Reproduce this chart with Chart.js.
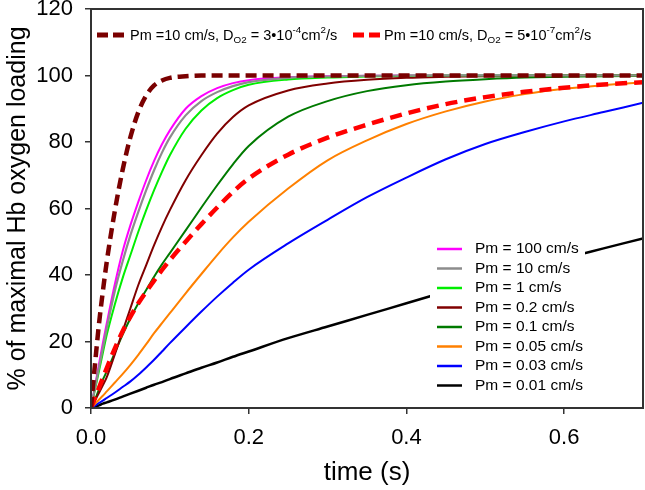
<!DOCTYPE html>
<html>
<head>
<meta charset="utf-8">
<script src="https://cdn.jsdelivr.net/npm/chart.js@4/dist/chart.umd.min.js"></script>
<style>
html,body{margin:0;padding:0;background:#fff;}
#wrap{width:645px;height:490px;position:relative;}
</style>
</head>
<body>
<div id="wrap"><canvas id="c" width="645" height="490"></canvas></div>
<script>
// ---- data ----
const times = [0, .005, .01, .015, .02, .03, .04, .05, .06, .07, .08, .09, .1, .12, .14, .16, .18, .2, .25, .3, .35, .4, .45, .5, .55, .6, .65, .7];

const dO2High = [0, 13, 25, 35, 44, 59, 71.5, 81.5, 89, 94, 97, 98.5, 99.3, 99.8, 100, 100, 100, 100, 100, 100, 100, 100, 100, 100, 100, 100, 100, 100];
const dO2Low  = [0, 3, 6, 9, 12, 17.8, 23, 27.5, 31.5, 35, 38.3, 41.5, 44.5, 50, 55.3, 60.3, 65, 69, 76.2, 81.3, 85.2, 88.6, 91.4, 93.5, 95.1, 96.3, 97.3, 98];
const pm100  = [0, 6.5, 13, 19.5, 25.5, 37, 47, 55, 62, 68.5, 74.3, 79.3, 83.5, 90, 93.8, 96.2, 97.7, 98.6, 99.5, 99.8, 99.9, 100, 100, 100, 100, 100, 100, 100];
const pm10   = [0, 6, 12, 18, 24, 35, 44, 52, 59, 65.5, 71.5, 76.8, 81.3, 88, 92.3, 95, 96.8, 98, 99.3, 99.7, 99.9, 100, 100, 100, 100, 100, 100, 100];
const pm1    = [0, 5.5, 11, 16.5, 22, 31, 39, 46, 53, 59.5, 65.5, 71, 76, 84, 89.5, 93.2, 95.6, 97.2, 98.8, 99.4, 99.7, 99.9, 100, 100, 100, 100, 100, 100];
const pm02   = [0, 2.2, 4.5, 6.8, 9.3, 16, 23, 30, 37, 43, 49, 54.5, 59.5, 68.5, 76, 82.5, 87.5, 91, 95.5, 97.6, 98.7, 99.3, 99.6, 99.8, 99.9, 100, 100, 100];
const pm01   = [0, 2.5, 5.5, 8.5, 11, 16.5, 22, 27, 31.5, 35.5, 39.5, 43.2, 46.6, 53.4, 60.3, 67, 73.3, 78.8, 87.6, 92.3, 95.3, 97.1, 98.2, 98.9, 99.4, 99.6, 99.8, 99.9];
const pm005  = [0, 1.2, 2.5, 3.7, 5, 7.6, 10.2, 13, 16, 19.2, 22.5, 25.5, 28.5, 34.5, 40.3, 46, 51.3, 56, 66, 74.5, 80.5, 85.4, 89.2, 92.2, 94.4, 96, 97.1, 97.9];
const pm003  = [0, 0.7, 1.5, 2.2, 3, 4.6, 6.3, 8, 10, 12.2, 14.5, 17, 19.5, 24.3, 29, 33.5, 37.7, 41.6, 49.5, 56.6, 63.4, 69.3, 74.8, 79.4, 83, 86.2, 89, 91.8];
const pm001  = [0, 0.4, 0.8, 1.3, 1.7, 2.5, 3.4, 4.3, 5.2, 6.1, 7, 7.8, 8.7, 10.4, 12.1, 13.7, 15.4, 17, 21, 24.5, 28, 31.5, 35, 38.5, 41.8, 45, 48, 51];

const xTicks = [0, 0.2, 0.4, 0.6];
const yTicks = [0, 20, 40, 60, 80, 100, 120];

const solidLabels = ["Pm = 100 cm/s", "Pm = 10 cm/s", "Pm = 1 cm/s", "Pm = 0.2 cm/s", "Pm = 0.1 cm/s", "Pm = 0.05 cm/s", "Pm = 0.03 cm/s", "Pm = 0.01 cm/s"];
const dashLabel1 = [["Pm =10 cm/s, D",""],["O2","sub"],[" = 3\u202210",""],["-4","sup"],["cm",""],["2","sup"],["/s",""]];
const dashLabel2 = [["Pm =10 cm/s, D",""],["O2","sub"],[" = 5\u202210",""],["-7","sup"],["cm",""],["2","sup"],["/s",""]];

const xTitle = "time (s)";
const yTitle = "% of maximal Hb oxygen loading";

// ---- build datasets ----
const pts = arr => times.map((t, i) => ({x: t, y: arr[i]}));
const FONT = "'Liberation Sans', Arial, sans-serif";

const solidSeries = [
  {data: pm100, color: '#ff00ff', w: 2, order: 1},
  {data: pm10,  color: '#8c8c8c', w: 2.2, order: 0},
  {data: pm1,   color: '#00ee00', w: 2, order: 0},
  {data: pm02,  color: '#800000', w: 2, order: 0},
  {data: pm01,  color: '#007a00', w: 2, order: 0},
  {data: pm005, color: '#ff8000', w: 2, order: 0},
  {data: pm003, color: '#0000ff', w: 2, order: 0},
  {data: pm001, color: '#000000', w: 2.5, order: 0}
];
const dashSeries = [
  {data: dO2High, color: '#7a0000', w: 4.5, dash: [11, 6]},
  {data: dO2Low,  color: '#ff0000', w: 4.5, dash: [12, 7]}
];

const datasets = [];
dashSeries.forEach((s, i) => datasets.push({
  label: 'dash' + i, data: pts(s.data), borderColor: s.color, borderWidth: s.w, order: -1,
  borderDash: s.dash, pointRadius: 0, fill: false, cubicInterpolationMode: 'monotone', borderCapStyle: 'butt'
}));
solidSeries.forEach((s, i) => datasets.push({
  label: solidLabels[i], data: pts(s.data), borderColor: s.color, borderWidth: s.w, order: s.order,
  pointRadius: 0, fill: false, cubicInterpolationMode: 'monotone'
}));

function drawRich(ctx, parts, x, y, size) {
  let cx = x;
  parts.forEach(([t, kind]) => {
    let fs = size, dy = 0;
    if (kind === 'sub') { fs = size * 0.68; dy = size * 0.28; }
    if (kind === 'sup') { fs = size * 0.68; dy = -size * 0.36; }
    ctx.font = fs + 'px ' + FONT;
    ctx.fillText(t, cx, y + dy);
    cx += ctx.measureText(t).width;
  });
}

const customLegend = {
  id: 'customLegend',
  afterDatasetsDraw(chart) {
    const ctx = chart.ctx;
    const ca = chart.chartArea;
    ctx.save();
    // frame
    ctx.strokeStyle = '#333';
    ctx.lineWidth = 2;
    ctx.strokeRect(ca.left, ca.top, ca.right - ca.left, ca.bottom - ca.top);
    // bottom-right legend (opaque box)
    ctx.fillStyle = '#fff';
    ctx.fillRect(430, 239, 155, ca.bottom - 240);
    ctx.textBaseline = 'middle';
    ctx.textAlign = 'left';
    solidSeries.forEach((s, i) => {
      const y = 249 + i * 19.5;
      ctx.strokeStyle = s.color;
      ctx.lineWidth = 2.5;
      ctx.setLineDash([]);
      ctx.beginPath(); ctx.moveTo(437, y); ctx.lineTo(462, y); ctx.stroke();
      ctx.fillStyle = '#000';
      ctx.font = '15.5px ' + FONT;
      ctx.fillText(solidLabels[i], 475, y);
    });
    // top legend (dashed entries)
    const tops = [{x1: 97, x2: 128, tx: 130, parts: dashLabel1}, {x1: 353, x2: 382, tx: 384, parts: dashLabel2}];
    tops.forEach((e, i) => {
      const s = dashSeries[i];
      ctx.strokeStyle = s.color;
      ctx.lineWidth = 5;
      ctx.setLineDash([11, 5]);
      ctx.lineCap = 'butt';
      ctx.beginPath(); ctx.moveTo(e.x1, 35); ctx.lineTo(e.x2, 35); ctx.stroke();
      ctx.setLineDash([]);
      ctx.fillStyle = '#000';
      drawRich(ctx, e.parts, e.tx, 36, 14.5);
    });
    ctx.restore();
  }
};

new Chart(document.getElementById('c'), {
  type: 'line',
  data: {datasets},
  plugins: [customLegend],
  options: {
    responsive: false,
    animation: false,
    events: [],
    layout: {padding: {top: 9, right: 2, left: 0, bottom: 0}},
    plugins: {legend: {display: false}, tooltip: {enabled: false}},
    scales: {
      x: {
        type: 'linear', min: 0, max: 0.7,
        afterBuildTicks: sc => { sc.ticks = xTicks.map(v => ({value: v})); },
        afterFit: sc => { sc.height = 82; sc.paddingLeft = 0; sc.paddingRight = 0; },
        grid: {drawOnChartArea: false, drawTicks: true, tickLength: 6, color: '#333', lineWidth: 1.5},
        border: {display: true, color: '#333', width: 2},
        ticks: {color: '#000', font: {family: FONT, size: 22}, padding: 11, callback: v => Number(v).toFixed(1), maxRotation: 0},
        title: {display: true, text: xTitle, color: '#000', font: {family: FONT, size: 26}, padding: {top: 2, bottom: 2}}
      },
      y: {
        type: 'linear', min: 0, max: 120,
        afterBuildTicks: sc => { sc.ticks = yTicks.map(v => ({value: v})); },
        afterFit: sc => { sc.width = 91; sc.paddingTop = 0; sc.paddingBottom = 0; },
        grid: {drawOnChartArea: false, drawTicks: true, tickLength: 6, color: '#333', lineWidth: 1.5},
        border: {display: true, color: '#333', width: 2},
        ticks: {color: '#000', font: {family: FONT, size: 22}, padding: 12},
        title: {display: true, text: yTitle, color: '#000', font: {family: FONT, size: 25}, padding: {top: 3, bottom: 2}}
      }
    }
  }
});
</script>
</body>
</html>
